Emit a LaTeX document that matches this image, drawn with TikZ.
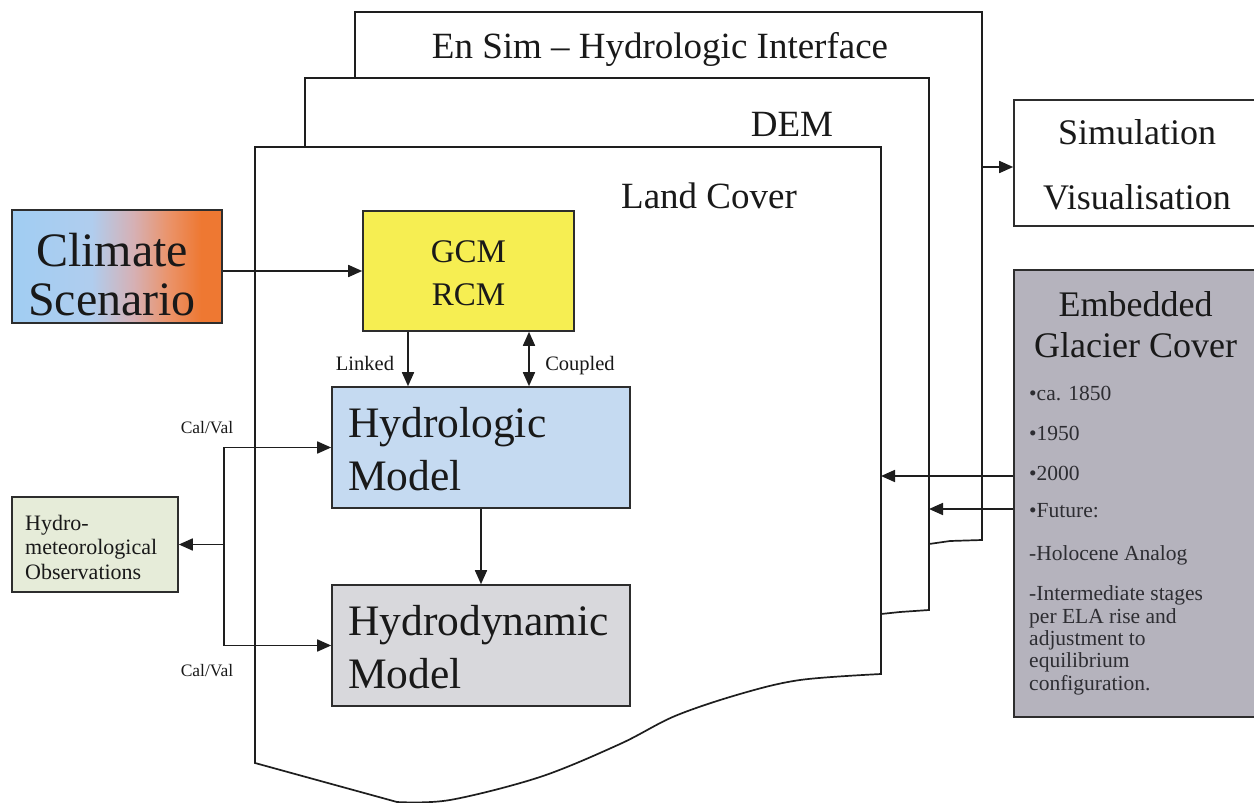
\documentclass[tikz,border=0pt]{standalone}
\usepackage{fontspec}
\setmainfont{Liberation Serif}
\usetikzlibrary{arrows.meta}

\definecolor{inkline}{RGB}{30,30,30}
\definecolor{boxline}{RGB}{45,45,45}
\definecolor{inktext}{RGB}{25,25,25}
\definecolor{gcmyellow}{RGB}{246,238,82}
\definecolor{hydroblue}{RGB}{197,218,241}
\definecolor{dynagray}{RGB}{216,216,220}
\definecolor{obsgreen}{RGB}{230,236,217}
\definecolor{glaciergray}{RGB}{181,179,189}
\definecolor{csblue}{RGB}{160,205,243}
\definecolor{cspale}{RGB}{176,205,238}
\definecolor{cspink}{RGB}{214,176,180}
\definecolor{cssalmon}{RGB}{234,148,108}
\definecolor{csorange}{RGB}{238,120,50}

% blue-to-orange ramp for the climate scenario box (path spans 25bp..75bp)
\pgfdeclarehorizontalshading{climateshade}{100bp}{%
  color(0bp)=(csblue); color(25bp)=(csblue); color(44bp)=(cspale);
  color(54bp)=(cspink); color(62bp)=(cssalmon); color(70bp)=(csorange);
  color(100bp)=(csorange)}

\tikzset{
  layer/.style={draw=inkline, line width=1.7pt, fill=white, line join=miter},
  box/.style={draw=boxline, line width=1.6pt, rectangle, inner sep=0pt},
  tip/.tip={Triangle[length=14pt,width=12pt]},
  link/.style={draw=inkline, line width=1.7pt, line join=miter},
  arr/.style={link, -tip},
  dblarr/.style={link, tip-tip},
  txt/.style={inner sep=0pt, text=inktext},
  layertext/.style={txt, font=\fontsize{37}{40}\selectfont},
  climtext/.style={txt, font=\fontsize{48}{52}\selectfont},
  gcmtext/.style={txt, font=\fontsize{33}{40}\selectfont},
  modeltext/.style={txt, font=\fontsize{43.5}{52}\selectfont},
  simtext/.style={txt, font=\fontsize{36}{40}\selectfont},
  itemtext/.style={txt, font=\fontsize{21.5}{22.5}\selectfont, text={rgb,255:red,45;green,45;blue,50}},
  obstext/.style={txt, font=\fontsize{22}{24}\selectfont},
  linktext/.style={txt, font=\fontsize{20.5}{24}\selectfont},
  caltext/.style={txt, font=\fontsize{17.5}{20}\selectfont},
}

\begin{document}
\begin{tikzpicture}[x=1pt,y=-1pt]
\useasboundingbox (0,0) rectangle (1254,803);
\clip (0,0) rectangle (1254,803);

% stacked data layers, back to front
\draw[layer] (355,12) -- (982,12) -- (982,540) -- (950,541) -- (929,544) -- (355,544) -- cycle;
\draw[layer] (305,78) -- (929,78) -- (929,610) -- (900,612) -- (881,614) -- (305,614) -- cycle;
\draw[layer] (255,147) -- (881,147) -- (881,674)
  -- plot[smooth, tension=0.55] coordinates {(881,674) (800,680) (740,694) (675,716) (620,744) (540,777) (450,800) (397,802)}
  -- (255,763) -- cycle;

\node[layertext, anchor=base] (enslabel) at (660,58) {En Sim – Hydrologic Interface};
\node[layertext, anchor=base] (demlabel) at (792,136) {DEM};
\node[layertext, anchor=base] (lclabel) at (709,208) {Land Cover};

% model boxes
\node[box, shading=climateshade, minimum width=210pt, minimum height=113pt] (climate) at (117,266.5) {};
\node[climtext, anchor=base] (climA) at (112,266) {Climate};
\node[climtext, anchor=base] (climB) at (112,315) {Scenario};

\node[box, fill=gcmyellow, minimum width=211pt, minimum height=120pt] (gcm) at (468.5,271) {};
\node[gcmtext, anchor=base] (gcmA) at (468.5,262) {GCM};
\node[gcmtext, anchor=base] (gcmB) at (468.5,305) {RCM};

\node[box, fill=hydroblue, minimum width=298pt, minimum height=121pt] (hydro) at (481,447.5) {};
\node[modeltext, anchor=base west] (hydroA) at (348,437) {Hydrologic};
\node[modeltext, anchor=base west] (hydroB) at (348,490) {Model};

\node[box, fill=dynagray, minimum width=298pt, minimum height=121pt] (hdyn) at (481,645.5) {};
\node[modeltext, anchor=base west] (hdynA) at (348,635) {Hydrodynamic};
\node[modeltext, anchor=base west] (hdynB) at (348,688) {Model};

\node[box, fill=obsgreen, minimum width=166pt, minimum height=95pt] (obs) at (95,544.5) {};
\node[obstext, anchor=base west] (obsA) at (25,530) {Hydro-};
\node[obstext, anchor=base west] (obsB) at (25,554) {meteorological};
\node[obstext, anchor=base west] (obsC) at (25,579) {Observations};

\node[box, fill=white, minimum width=248pt, minimum height=126pt] (sim) at (1138,163) {};
\node[simtext, anchor=base] (simA) at (1137,144) {Simulation};
\node[simtext, anchor=base] (simB) at (1137,209) {Visualisation};

\node[box, fill=glaciergray, minimum width=248pt, minimum height=447pt] (glacier) at (1138,493.5) {};
\node[simtext, anchor=base] (glA) at (1135.5,316) {Embedded};
\node[simtext, anchor=base] (glB) at (1135.5,357) {Glacier Cover};
\node[itemtext, anchor=base west] (it1) at (1029,400) {•ca. 1850};
\node[itemtext, anchor=base west] (it2) at (1029,440) {•1950};
\node[itemtext, anchor=base west] (it3) at (1029,480) {•2000};
\node[itemtext, anchor=base west] (it4) at (1029,517) {•Future:};
\node[itemtext, anchor=base west] (it5) at (1029,560) {-Holocene Analog};
\node[itemtext, anchor=base west] (it6a) at (1029,600) {-Intermediate stages};
\node[itemtext, anchor=base west] (it6b) at (1029,623) {per ELA rise and};
\node[itemtext, anchor=base west] (it6c) at (1029,645) {adjustment to};
\node[itemtext, anchor=base west] (it6d) at (1029,667) {equilibrium};
\node[itemtext, anchor=base west] (it6e) at (1029,690) {configuration.};

% connectors
\draw[arr] (climate.east |- gcm.west) -- (gcm.west);
\draw[arr] ([xshift=-60.5pt]gcm.south) -- ([xshift=-60.5pt]gcm.south |- hydro.north);
\draw[dblarr] ([xshift=60.5pt]gcm.south) -- ([xshift=60.5pt]gcm.south |- hydro.north);
\node[linktext, anchor=base] (linked) at (365,370) {Linked};
\node[linktext, anchor=base] (coupled) at (580,370) {Coupled};
\draw[arr] (hydro.south) -- (hdyn.north);

\coordinate (cvtop) at (224,447.5);
\coordinate (cvbot) at (224,645.5);
\draw[dblarr] (hydro.west) -- (cvtop) -- (cvbot) -- (hdyn.west);
\draw[arr] (cvtop |- obs.east) -- (obs.east);
\node[caltext, anchor=base] (calA) at (207,433) {Cal/Val};
\node[caltext, anchor=base] (calB) at (207,676) {Cal/Val};

\coordinate (lcedge) at (881,476);
\coordinate (demedge) at (929,509);
\coordinate (ensedge) at (982,167);
\draw[arr] (glacier.west |- lcedge) -- (lcedge);
\draw[arr] (glacier.west |- demedge) -- (demedge);
\draw[arr] (ensedge) -- (sim.west |- ensedge);
\end{tikzpicture}
\end{document}
